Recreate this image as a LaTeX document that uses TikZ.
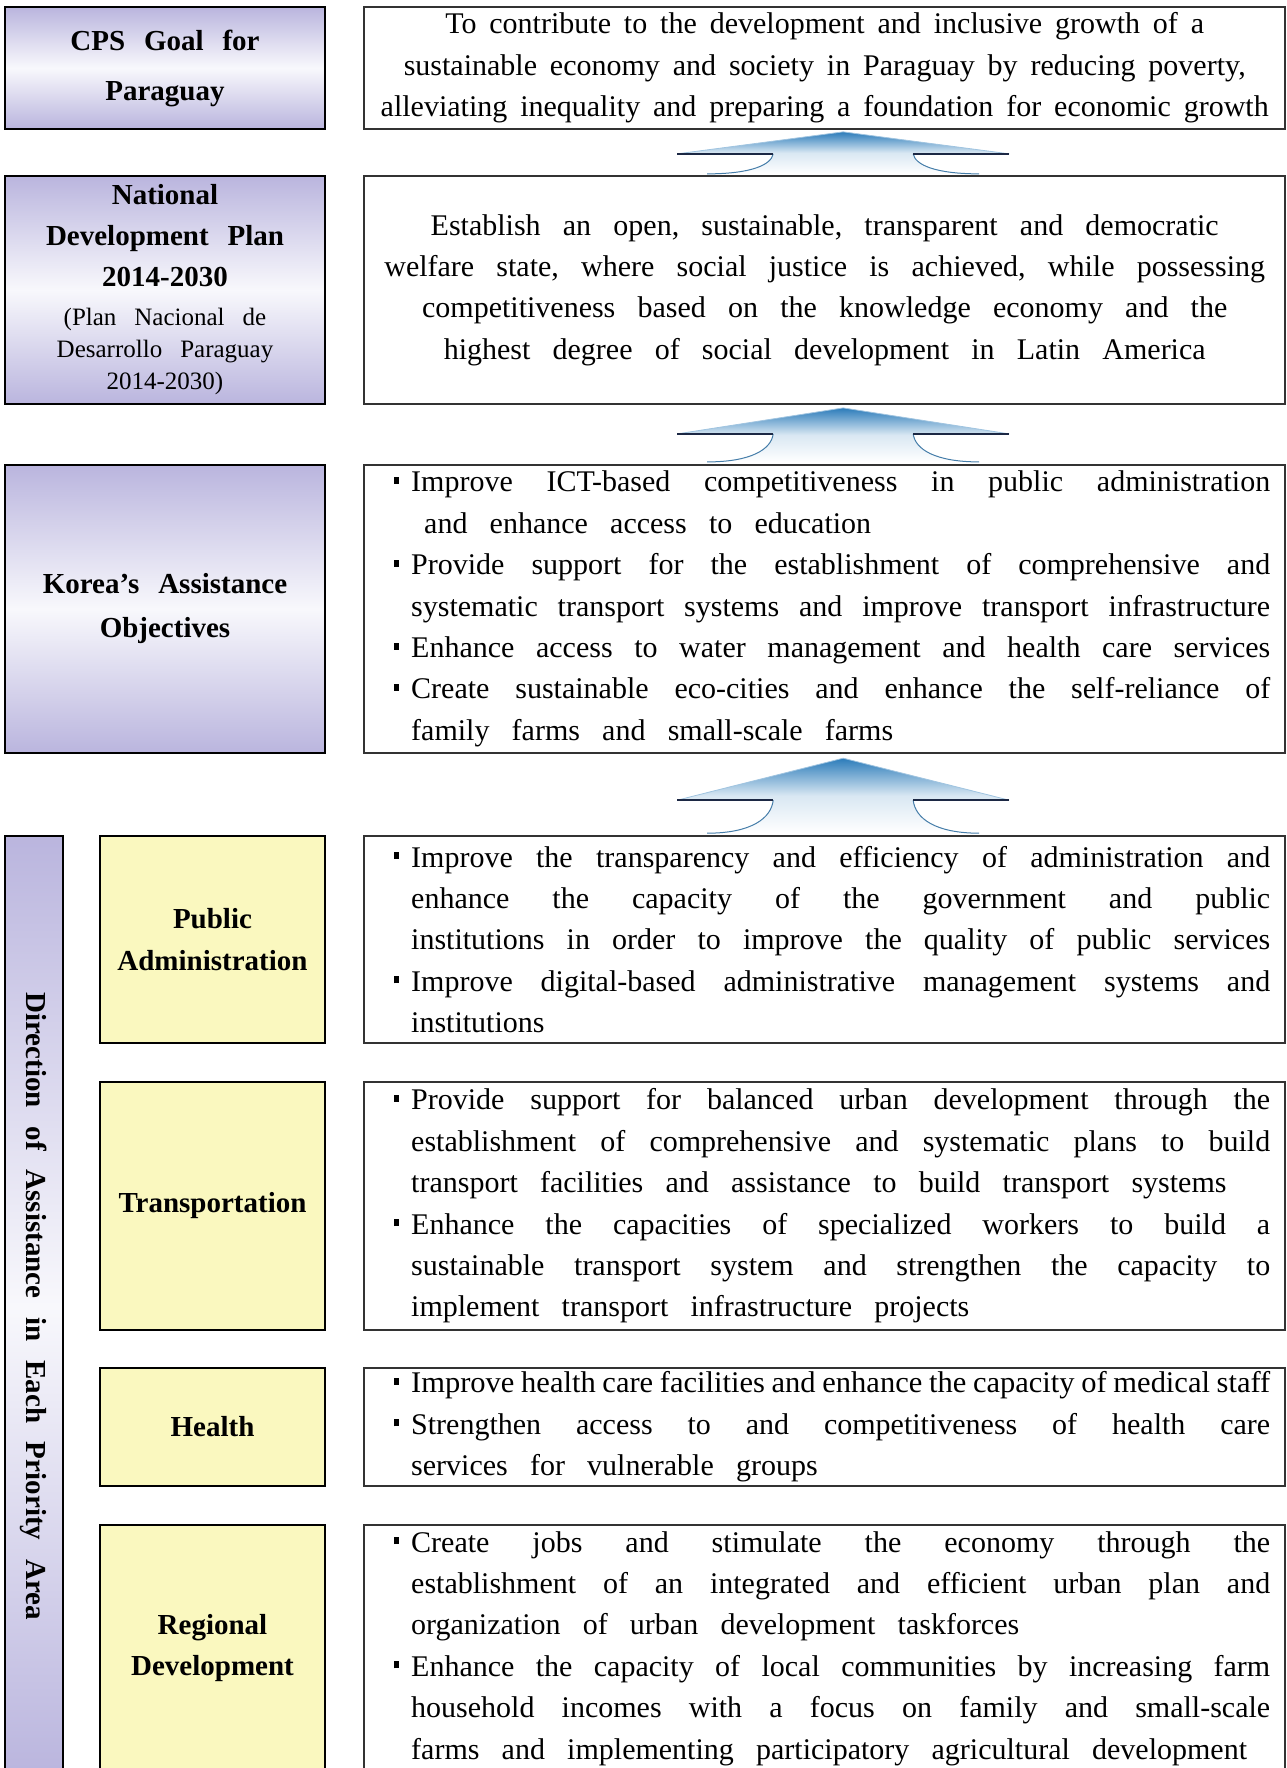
\documentclass[tikz,border=0pt]{standalone}
\usepackage{fontspec}
\setmainfont{Liberation Serif}
\usepackage{graphicx}
\usetikzlibrary{positioning, calc, shadings}
\hbadness=10000 \hfuzz=4pt \vfuzz=4pt

\definecolor{lavender}{RGB}{186,181,222}
\definecolor{lavlight}{RGB}{248,248,252}
\definecolor{paleyellow}{RGB}{250,248,191}
\definecolor{arrowblue}{RGB}{44,124,186}
\definecolor{shouldercol}{RGB}{28,40,68}

\newcommand{\bodyfont}{\fontsize{15}{20.7}\selectfont}
\newcommand{\labelfont}[1]{\bfseries\fontsize{14.5}{#1}\selectfont}
\newcommand{\notefont}{\mdseries\fontsize{12.5}{16}\selectfont\spaceskip=0.72em\relax}
\newcommand{\sqb}{\rule[4pt]{2.5pt}{3.5pt}}
\newcommand{\bmark}{\hangindent=8.5pt\hangafter=1\relax\makebox[8.5pt][l]{\sqb}}

\tikzset{
  pics/liftarrow/.style 2 args={code={
    \shade[top color=arrowblue, bottom color=white, middle color=arrowblue!18]
      (-83,0) -- (0,-#1) -- (83,0) -- (35,0)
      .. controls (36,0.55*#2) and (46,#2) .. (68,#2) -- (-68,#2)
      .. controls (-46,#2) and (-36,0.55*#2) .. (-35,0) -- cycle;
    \draw[arrowblue!45, line width=0.4pt] (-83,0) -- (0,-#1) -- (83,0);
    \draw[arrowblue!70!gray, line width=0.5pt]
      (35,0) .. controls (36,0.55*#2) and (46,#2) .. (68,#2)
      (-35,0) .. controls (-36,0.55*#2) and (-46,#2) .. (-68,#2);
    \draw[shouldercol, line width=1.3pt] (-83,0) -- (-35,0) (35,0) -- (83,0);
  }}
}

\begin{document}
\begin{tikzpicture}[x=1pt, y=-1pt,
    headbox/.style={draw, line width=1.3pt, top color=lavender, bottom color=lavender,
                    middle color=lavlight, minimum width=160pt, text width=150pt,
                    align=center, inner sep=0pt,
                    execute at begin node={\spaceskip=0.65em\relax}},
    areabox/.style={draw, line width=1.3pt, fill=paleyellow, minimum width=112.5pt,
                    text width=106pt, align=center, inner sep=0pt,
                    execute at begin node={\spaceskip=0.65em\relax}},
    textbox/.style={draw=black!80, line width=0.9pt, text width=460.5pt,
                    inner xsep=0pt, inner ysep=0pt, font=\bodyfont},
    centerbox/.style={textbox, align=center,
                    execute at begin node={\spaceskip=0.74em\relax}},
    listbox/.style={textbox,
                    execute at begin node={\spaceskip=0.74em plus 1em minus 0.16em\relax
                      \leftskip=15pt\rightskip=7.5pt\parfillskip=0pt plus 1fil\relax}}]
    \useasboundingbox (0,0) rectangle (643,884);

    % left column
    \node (goal)   [headbox, minimum height=61pt, font={\labelfont{25}}] at (82.5,34)
                   {CPS Goal for\\Paraguay};
    \node (ndp)    [headbox, minimum height=114pt, font={\labelfont{20.5}}] at (82.5,145)
                   {National\\Development Plan\\2014-2030\par\vspace{3.5pt}%
                    {\notefont(Plan Nacional de\\Desarrollo Paraguay\\2014-2030)\par}};
    \node (korea)  [headbox, minimum height=144pt, font={\labelfont{22}}] at (82.5,304.5)
                   {Korea’s Assistance\\Objectives};
    \node (dir)    [draw, line width=1.3pt, top color=lavender, bottom color=lavender,
                    middle color=lavlight, minimum width=29pt, minimum height=470pt,
                    inner sep=0pt, font={\labelfont{20}}] at (17,653)
                   {\spaceskip=0.65em\relax\rotatebox{-90}{Direction of Assistance in Each Priority Area}};
    \node (pubadm) [areabox, minimum height=103.5pt, font={\labelfont{21}}] at (106.25,469.75)
                   {Public\\Administration};
    \node (transp) [areabox, minimum height=124pt, font={\labelfont{21}}] at (106.25,603)
                   {Transportation};
    \node (health) [areabox, minimum height=59pt, font={\labelfont{21}}] at (106.25,713.5)
                   {Health};
    \node (region) [areabox, minimum height=123.5pt, font={\labelfont{20.5}}] at (106.25,824.25)
                   {Regional\\Development};

    % right column
    \node (goaltxt) [centerbox, right=18.5pt of goal, minimum height=61pt,
                     execute at begin node={\spaceskip=0.43em\relax}]
        {To contribute to the development and inclusive growth of a\\
         sustainable economy and society in Paraguay by reducing poverty,\\
         alleviating inequality and preparing a foundation for economic growth};
    \node (ndptxt) [centerbox, right=18.5pt of ndp, minimum height=114pt]
        {Establish an open, sustainable, transparent and democratic\\
         welfare state, where social justice is achieved, while possessing\\
         competitiveness based on the knowledge economy and the\\
         highest degree of social development in Latin America};
    \node (koreatxt) [listbox, right=18.5pt of korea, minimum height=144pt]
        {\bmark Improve ICT-based competitiveness in public administration\linebreak
         \hspace*{6.5pt}and enhance access to education\par
         \bmark Provide support for the establishment of comprehensive and\linebreak
         systematic transport systems and improve transport infrastructure\par
         \bmark Enhance access to water management and health care services\par
         \bmark Create sustainable eco-cities and enhance the self-reliance of\linebreak
         family farms and small-scale farms\par};
    \node (pubadmtxt) [listbox, right=18.5pt of pubadm, minimum height=103.5pt]
        {\bmark Improve the transparency and efficiency of administration and\linebreak
         enhance the capacity of the government and public\linebreak
         institutions in order to improve the quality of public services\par
         \bmark Improve digital-based administrative management systems and\linebreak
         institutions\par};
    \node (transptxt) [listbox, right=18.5pt of transp, minimum height=124pt]
        {\bmark Provide support for balanced urban development through the\linebreak
         establishment of comprehensive and systematic plans to build\linebreak
         transport facilities and assistance to build transport systems\par
         \bmark Enhance the capacities of specialized workers to build a\linebreak
         sustainable transport system and strengthen the capacity to\linebreak
         implement transport infrastructure projects\par};
    \node (healthtxt) [listbox, right=18.5pt of health, minimum height=59pt]
        {\bmark\resizebox{429.5pt}{\height}{\spaceskip=0.22em\relax Improve health care facilities and enhance the capacity of medical staff}\par
         \bmark Strengthen access to and competitiveness of health care\linebreak
         services for vulnerable groups\par};
    \node (regiontxt) [listbox, right=18.5pt of region, minimum height=123.5pt]
        {\bmark Create jobs and stimulate the economy through the\linebreak
         establishment of an integrated and efficient urban plan and\linebreak
         organization of urban development taskforces\par
         \bmark Enhance the capacity of local communities by increasing farm\linebreak
         household incomes with a focus on family and small-scale\linebreak
         farms and implementing participatory agricultural development\par};

    % arrows between the levels
    \pic at ($(goaltxt.south)!0.53!(ndptxt.north)+(9.25,0)$) {liftarrow={11}{10}};
    \pic at ($(ndptxt.south)!0.49!(koreatxt.north)+(9.25,0)$) {liftarrow={13}{14}};
    \pic at ($(koreatxt.south)!0.57!(pubadmtxt.north)+(9.25,0)$) {liftarrow={21}{16.5}};
\end{tikzpicture}
\end{document}
